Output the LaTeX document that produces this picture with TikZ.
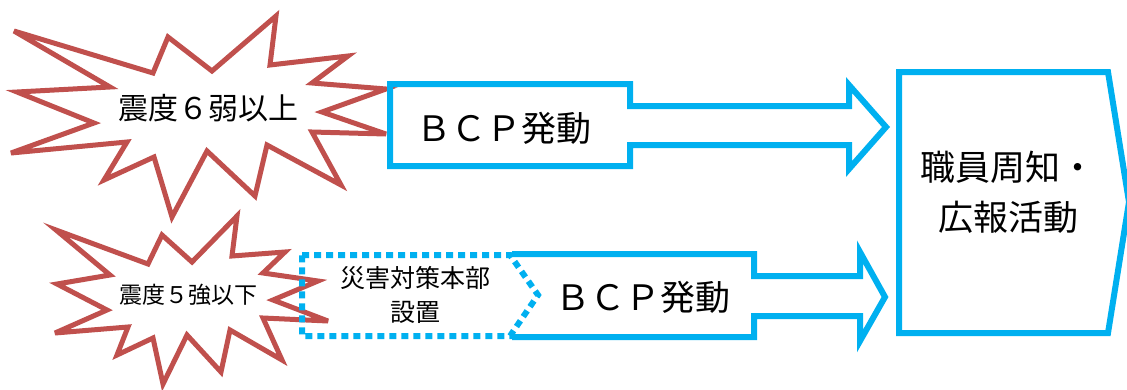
\documentclass[tikz,border=0pt]{standalone}
\usepackage{fontspec}
\setmainfont{Noto Sans CJK JP}
\begin{document}
\begin{tikzpicture}[x=1pt,y=-1pt]
\definecolor{burstred}{RGB}{192,80,77}
\definecolor{skyblue}{RGB}{0,176,240}
\tikzset{
  burst/.style={draw=burstred,line width=5pt,line join=miter,miter limit=6},
  flow/.style={draw=skyblue,line width=6pt,line join=miter},
  dotbox/.style={draw=skyblue,line width=6pt,dash pattern=on 7pt off 5pt},
  lbl/.style={inner sep=0pt,align=center,text=black}
}
\useasboundingbox (0,0) rectangle (1127,389);
% top starburst
\draw[burst] (14,31) -- (153,73) -- (168,37) -- (212,71) -- (276,16) -- (270,65)
  -- (348,56) -- (312,83) -- (386,89) -- (322,112) -- (386,134) -- (312,132)
  -- (341,185) -- (267,145) -- (255,196) -- (207,151) -- (172,217) -- (154,157)
  -- (104,180) -- (127,142) -- (11,153) -- (94,123) -- (17,92) -- (110,87) -- cycle;
% bottom starburst
\draw[burst] (56,230) -- (148,264) -- (162,235) -- (192,262) -- (237,216) -- (232,256)
  -- (285,252) -- (263,273) -- (318,281) -- (273,300) -- (328,321) -- (263,318)
  -- (282,360) -- (230,330) -- (221,372) -- (187,335) -- (163,384) -- (153,338)
  -- (117,355) -- (128,327) -- (55,333) -- (107,310) -- (57,284) -- (110,275) -- cycle;
% BCP arrow 1
\draw[flow] (390,84) -- (630,84) -- (630,106) -- (849,106) -- (849,85) -- (886,127)
  -- (849,169) -- (849,145) -- (630,145) -- (630,166) -- (390,166) -- cycle;
% BCP arrow 2
\draw[flow] (512,254) -- (754,254) -- (754,276) -- (860,276) -- (860,252) -- (885,297)
  -- (860,341) -- (860,316) -- (754,316) -- (754,337) -- (512,337);
% dotted chevron
\draw[dotbox] (302,255) -- (510,255) -- (538,295) -- (510,336) -- (302,336) -- cycle;
% right box
\draw[flow] (899,72) -- (1108,72) -- (1129,202) -- (1108,333) -- (899,333) -- cycle;
% labels
\node[lbl,font=\fontsize{30}{36}\selectfont] (t6) at (208,108) {震度６弱以上};
\node[lbl,font=\fontsize{23}{28}\selectfont] (t5) at (188,295) {震度５強以下};
\node[lbl,font=\fontsize{35}{42}\selectfont] (bcp1) at (504,128) {ＢＣＰ発動};
\node[lbl,font=\fontsize{35}{42}\selectfont] (bcp2) at (643,297) {ＢＣＰ発動};
\node[lbl,font=\fontsize{25}{34}\selectfont] (hq) at (415,295) {災害対策本部\\設置};
\node[lbl,font=\fontsize{35}{50}\selectfont] (pr) at (1008,192) {職員周知・\\広報活動};
\end{tikzpicture}
\end{document}
